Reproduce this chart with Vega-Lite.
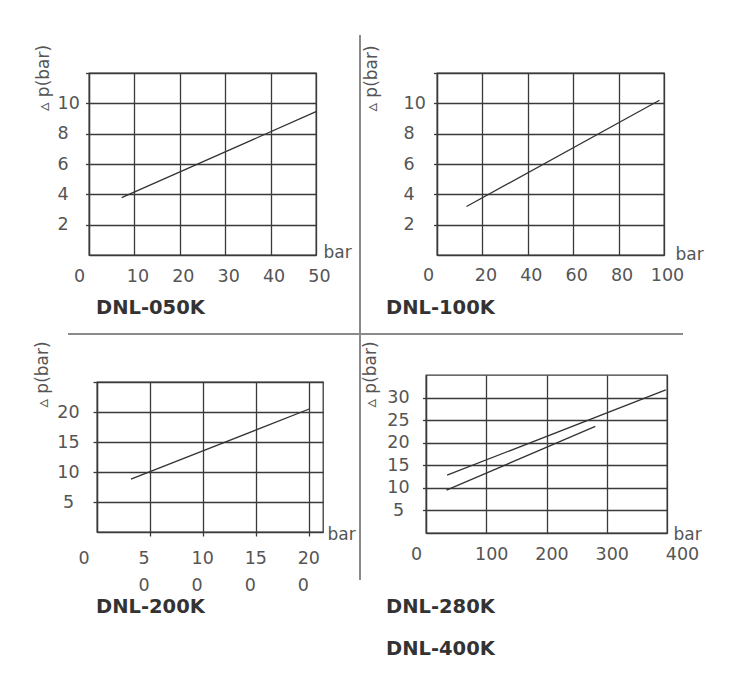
{
  "$schema": "https://vega.github.io/schema/vega-lite/v6.json",
  "background": "white",
  "padding": {"left": 19, "top": 29, "right": 5, "bottom": 5},
  "datasets": {
    "dnl050": [{"p": 7.2, "dp": 3.78}, {"p": 50, "dp": 9.45}],
    "dnl100": [{"p": 13, "dp": 3.2}, {"p": 98, "dp": 10.2}],
    "dnl200": [{"p": 32, "dp": 8.8}, {"p": 200, "dp": 20.5}],
    "dnl280_400": [
      {"model": "DNL-280K", "p": 34, "dp": 9.5},
      {"model": "DNL-280K", "p": 281, "dp": 23.6},
      {"model": "DNL-400K", "p": 35, "dp": 12.8},
      {"model": "DNL-400K", "p": 398, "dp": 31.7}
    ]
  },
  "columns": 3,
  "align": "none",
  "bounds": "full",
  "spacing": {"row": -14, "column": -62},
  "concat": [
    {
      "width": 1, "height": 1,
      "data": {"name": "dnl050"},
      "view": {"stroke": null},
      "mark": {"type": "point", "opacity": 0, "size": 1},
      "encoding": {}
    },
    {
      "width": 227, "height": 182,
      "data": {"name": "dnl050"},
      "title": {"text": "DNL-050K", "orient": "bottom", "anchor": "start", "frame": "group", "baseline": "alphabetic", "offset": -24, "dx": 7},
      "layer": [
        {
          "mark": {"type": "line", "color": "#333", "strokeWidth": 1.3},
          "encoding": {
            "x": {"field": "p", "type": "quantitative", "scale": {"domain": [0, 50], "nice": false, "zero": false},
              "axis": {"values": [0, 10, 20, 30, 40, 50], "tickCount": 50, "format": "d", "grid": true, "ticks": false, "tickSize": 0, "labelPadding": 12,
                "labelOffset": {"condition": {"test": "datum.value === 0", "value": -10}, "value": 3},
                "title": "bar", "titleX": 234, "titleY": 2, "titleAlign": "left", "titleBaseline": "alphabetic", "titleAngle": 0}},
            "y": {"field": "dp", "type": "quantitative", "scale": {"domain": [0, 12], "nice": false, "zero": false},
              "axis": {"values": [2, 4, 6, 8, 10, 12], "tickCount": 50, "format": "d", "grid": true, "ticks": true, "tickSize": 3.5, "labelAlign": "left", "labelPadding": 28.5,
                "labelExpr": "datum.value === 12 ? '' : datum.label",
                "title": "▵ p(bar)", "titleX": -45.7, "titleY": 4.5, "titleAngle": -90, "titleAlign": "center", "titleBaseline": "middle"}}
          }
        },
        {
          "mark": {"type": "rule", "opacity": 0},
          "encoding": {
            "x": {"datum": -15.198, "scale": {"domain": [0, 50], "nice": false, "zero": false}},
            "x2": {"datum": 66.30},
            "y": {"datum": 14.835, "scale": {"domain": [0, 12], "nice": false, "zero": false}},
            "y2": {"datum": -5.473}
          }
        }
      ]
    },
    {
      "width": 227, "height": 182,
      "data": {"name": "dnl100"},
      "title": {"text": "DNL-100K", "orient": "bottom", "anchor": "start", "frame": "group", "baseline": "alphabetic", "offset": -24, "dx": -51},
      "layer": [
        {
          "mark": {"type": "line", "color": "#333", "strokeWidth": 1.3},
          "encoding": {
            "x": {"field": "p", "type": "quantitative", "scale": {"domain": [0, 100], "nice": false, "zero": false},
              "axis": {"values": [0, 20, 40, 60, 80, 100], "tickCount": 50, "format": "d", "grid": true, "ticks": false, "tickSize": 0, "labelPadding": 11,
                "labelOffset": {"condition": {"test": "datum.value === 0", "value": -9}, "value": 3},
                "title": "bar", "titleX": 238, "titleY": 4, "titleAlign": "left", "titleBaseline": "alphabetic", "titleAngle": 0}},
            "y": {"field": "dp", "type": "quantitative", "scale": {"domain": [0, 12], "nice": false, "zero": false},
              "axis": {"values": [2, 4, 6, 8, 10, 12], "tickCount": 50, "format": "d", "grid": true, "ticks": true, "tickSize": 3.5, "labelAlign": "left", "labelPadding": 30.5,
                "labelExpr": "datum.value === 12 ? '' : datum.label",
                "title": "▵ p(bar)", "titleX": -65.3, "titleY": 5, "titleAngle": -90, "titleAlign": "center", "titleBaseline": "middle"}}
          }
        },
        {
          "mark": {"type": "rule", "opacity": 0},
          "encoding": {
            "x": {"datum": -47.137, "scale": {"domain": [0, 100], "nice": false, "zero": false}},
            "x2": {"datum": -47.137},
            "y": {"datum": 14.835, "scale": {"domain": [0, 12], "nice": false, "zero": false}},
            "y2": {"datum": -5.473}
          }
        },
        {
          "mark": {"type": "rule", "color": "#8a8a8a", "strokeWidth": 2},
          "encoding": {
            "x": {"datum": -33.921, "scale": {"domain": [0, 100], "nice": false, "zero": false}},
            "y": {"datum": 14.505, "scale": {"domain": [0, 12], "nice": false, "zero": false}},
            "y2": {"datum": -5.209}
          }
        }
      ]
    },
    {
      "width": 1, "height": 1,
      "data": {"name": "dnl200"},
      "view": {"stroke": null},
      "mark": {"type": "point", "opacity": 0, "size": 1},
      "encoding": {}
    },
    {
      "width": 226, "height": 150,
      "data": {"name": "dnl200"},
      "title": {"text": "DNL-200K", "orient": "bottom", "anchor": "start", "frame": "group", "baseline": "alphabetic", "offset": 9.3, "dx": -1},
      "layer": [
        {
          "mark": {"type": "line", "color": "#333", "strokeWidth": 1.3},
          "encoding": {
            "x": {"field": "p", "type": "quantitative", "scale": {"domain": [0, 213], "nice": false, "zero": false},
              "axis": {"values": [0, 50, 100, 150, 200], "tickCount": 50, "grid": true, "ticks": true, "tickSize": 4, "labelPadding": 13.5,
                "labelAlign": "left", "labelLineHeight": 26.5,
                "labelExpr": "datum.value === 0 ? '0' : [format(datum.value / 10, 'd'), '0']",
                "labelOffset": {"condition": {"test": "datum.value === 0", "value": -19}, "value": -12},
                "tickOpacity": {"condition": {"test": "datum.value === 0", "value": 0}, "value": 1},
                "title": "bar", "titleX": 230, "titleY": 7, "titleAlign": "left", "titleBaseline": "alphabetic", "titleAngle": 0}},
            "y": {"field": "dp", "type": "quantitative", "scale": {"domain": [0, 25], "nice": false, "zero": false},
              "axis": {"values": [5, 10, 15, 20, 25], "tickCount": 50, "format": "d", "grid": true, "ticks": true, "tickSize": 4, "labelAlign": "center", "labelPadding": 25,
                "labelExpr": "datum.value === 25 ? '' : datum.label",
                "title": "▵ p(bar)", "titleX": -54.8, "titleY": -8, "titleAngle": -90, "titleAlign": "center", "titleBaseline": "middle"}}
          }
        },
        {
          "mark": {"type": "rule", "opacity": 0},
          "encoding": {
            "x": {"datum": -72.571, "scale": {"domain": [0, 213], "nice": false, "zero": false}},
            "x2": {"datum": 276.15},
            "y": {"datum": 34.333, "scale": {"domain": [0, 25], "nice": false, "zero": false}},
            "y2": {"datum": -12.0}
          }
        },
        {
          "mark": {"type": "rule", "color": "#8a8a8a", "strokeWidth": 2},
          "encoding": {
            "x": {"datum": -27.332, "scale": {"domain": [0, 213], "nice": false, "zero": false}},
            "x2": {"datum": 247.87},
            "y": {"datum": 33.0, "scale": {"domain": [0, 25], "nice": false, "zero": false}}
          }
        }
      ]
    },
    {
      "width": 241, "height": 158,
      "data": {"name": "dnl280_400"},
      "title": {"text": ["DNL-280K", "DNL-400K"], "orient": "bottom", "anchor": "start", "frame": "group", "baseline": "alphabetic", "offset": 9.3, "dx": -40, "lineHeight": 41.7},
      "layer": [
        {
          "mark": {"type": "line", "color": "#333", "strokeWidth": 1.3},
          "encoding": {
            "detail": {"field": "model", "type": "nominal"},
            "x": {"field": "p", "type": "quantitative", "scale": {"domain": [0, 400], "nice": false, "zero": false},
              "axis": {"values": [0, 100, 200, 300, 400], "tickCount": 50, "format": "d", "grid": true, "ticks": false, "tickSize": 0, "labelPadding": 12,
                "labelOffset": {"condition": [{"test": "datum.value === 0", "value": -10}, {"test": "datum.value === 400", "value": 15}], "value": 5},
                "title": "bar", "titleX": 247, "titleY": 6, "titleAlign": "left", "titleBaseline": "alphabetic", "titleAngle": 0}},
            "y": {"field": "dp", "type": "quantitative", "scale": {"domain": [0, 35], "nice": false, "zero": false},
              "axis": {"values": [5, 10, 15, 20, 25, 30], "tickCount": 50, "format": "d", "grid": true, "ticks": true, "tickSize": 3.5, "labelAlign": "center", "labelPadding": 24.5,
                "title": "▵ p(bar)", "titleX": -55.5, "titleY": -1, "titleAngle": -90, "titleAlign": "center", "titleBaseline": "middle"}}
          }
        },
        {
          "mark": {"type": "rule", "opacity": 0},
          "encoding": {
            "x": {"datum": -146.06, "scale": {"domain": [0, 400], "nice": false, "zero": false}},
            "x2": {"datum": -146.06},
            "y": {"datum": 45.854, "scale": {"domain": [0, 35], "nice": false, "zero": false}},
            "y2": {"datum": -15.728}
          }
        },
        {
          "mark": {"type": "rule", "color": "#8a8a8a", "strokeWidth": 2},
          "encoding": {
            "x": {"datum": -109.54, "scale": {"domain": [0, 400], "nice": false, "zero": false}},
            "x2": {"datum": 426.56},
            "y": {"datum": 44.082, "scale": {"domain": [0, 35], "nice": false, "zero": false}}
          }
        },
        {
          "mark": {"type": "rule", "color": "#8a8a8a", "strokeWidth": 2},
          "encoding": {
            "x": {"datum": -109.54, "scale": {"domain": [0, 400], "nice": false, "zero": false}},
            "y": {"datum": 44.082, "scale": {"domain": [0, 35], "nice": false, "zero": false}},
            "y2": {"datum": -10.411}
          }
        }
      ]
    }
  ],
  "config": {
    "view": {"stroke": "#3a3a3a", "strokeWidth": 1.3},
    "axis": {
      "labelFont": "DejaVu Sans", "labelFontSize": 17.5, "labelColor": "#555",
      "titleFont": "DejaVu Sans", "titleFontSize": 17, "titleFontWeight": "normal", "titleColor": "#555",
      "gridColor": "#3a3a3a", "gridWidth": 1.3, "gridOpacity": 1,
      "domainColor": "#3a3a3a", "domainWidth": 1.3,
      "tickColor": "#3a3a3a", "tickWidth": 1.3,
      "labelFlush": false, "labelOverlap": false, "labelBound": false
    },
    "title": {"font": "DejaVu Sans", "fontSize": 19.5, "fontWeight": "bold", "color": "#333"}
  }
}
